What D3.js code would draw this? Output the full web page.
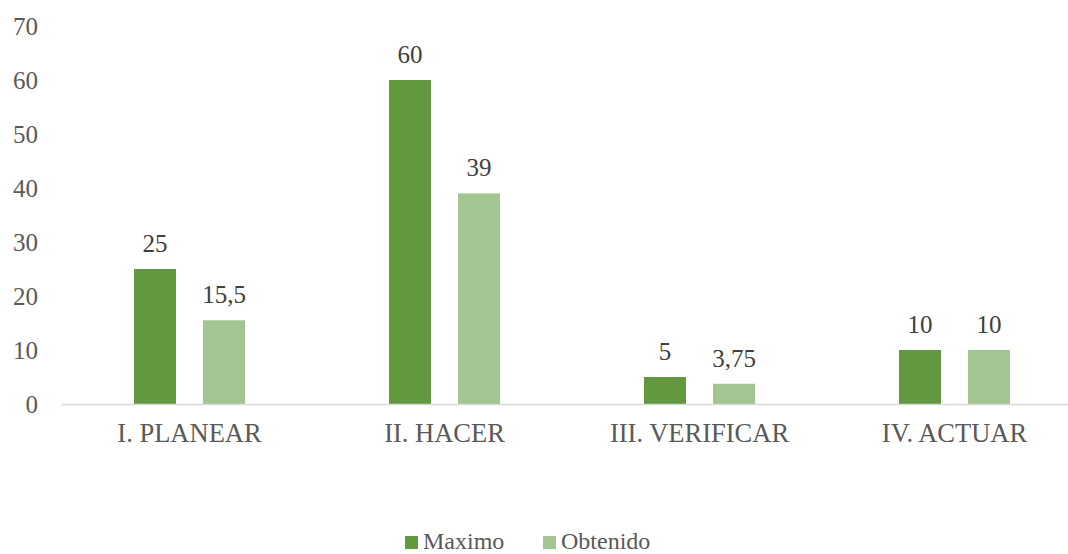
<!DOCTYPE html>
<html>
<head>
<meta charset="utf-8">
<script src="https://cdn.jsdelivr.net/npm/d3@7"></script>
<style>
  body { margin: 0; background: #fff; }
</style>
</head>
<body>
<div id="chart"></div>
<script>
// data
var categories = ["I. PLANEAR", "II. HACER", "III. VERIFICAR", "IV. ACTUAR"];
var seriesNames = ["Maximo", "Obtenido"];
var maximo = [25, 60, 5, 10];
var obtenido = [15.5, 39, 3.75, 10];
var yTicks = [0, 10, 20, 30, 40, 50, 60, 70];

var colors = ["#62993e", "#a2c591"];
var FONT = "'Liberation Serif'";

var W = 1068, H = 554;
var margin = {top: 26, left: 62};

var svg = d3.select("#chart").append("svg")
  .attr("width", W)
  .attr("height", H);

// x scale runs past the right edge, like the original
var x0 = d3.scaleBand()
  .domain(categories)
  .range([margin.left, margin.left + 255 * categories.length]);

var x1 = d3.scaleBand()
  .domain(seriesNames)
  .range([0, 111])
  .paddingInner(27 / 69);

var y = d3.scaleLinear()
  .domain([0, 70])
  .range([404, margin.top]);

// y tick labels
svg.append("g")
  .selectAll("text")
  .data(yTicks)
  .enter()
  .append("text")
  .attr("x", 38)
  .attr("y", function(d) { return y(d); })
  .attr("dy", "0.35em")
  .attr("fill", "#595959")
  .style("font-family", FONT)
  .style("text-anchor", "end")
  .style("font-size", "25px")
  .text(function(d) { return d; });

// bars
var rows = categories.map(function(c, i) {
  return {cat: c, vals: [maximo[i], obtenido[i]]};
});

var groups = svg.selectAll(".grp")
  .data(rows)
  .enter()
  .append("g")
  .attr("class", "grp")
  .attr("transform", function(d) {
    return "translate(" + (x0(d.cat) + x0.bandwidth() / 2 - 55.5) + ",0)";
  });

var fmt = function(v) { return String(v).replace(".", ","); };

groups.selectAll("rect")
  .data(function(d) { return d.vals.map(function(v, j) { return {s: seriesNames[j], v: v, j: j}; }); })
  .enter()
  .append("rect")
  .attr("x", function(d) { return x1(d.s); })
  .attr("y", function(d) { return y(d.v); })
  .attr("width", x1.bandwidth())
  .attr("height", function(d) { return y(0) - y(d.v); })
  .attr("fill", function(d) { return colors[d.j]; });

groups.selectAll(".lbl")
  .data(function(d) { return d.vals.map(function(v, j) { return {s: seriesNames[j], v: v}; }); })
  .enter()
  .append("text")
  .attr("class", "lbl")
  .attr("x", function(d) { return x1(d.s) + x1.bandwidth() / 2; })
  .attr("y", function(d) { return y(d.v) - 17; })
  .attr("fill", "#404040")
  .style("font-family", FONT)
  .style("text-anchor", "middle")
  .style("font-size", "25px")
  .text(function(d) { return fmt(d.v); });

// x axis line
svg.append("line")
  .attr("x1", margin.left)
  .attr("x2", W)
  .attr("y1", y(0) + 0.5)
  .attr("y2", y(0) + 0.5)
  .attr("stroke", "#d9d9d9")
  .attr("stroke-width", 1.5);

// category labels
svg.append("g")
  .selectAll("text")
  .data(categories)
  .enter()
  .append("text")
  .attr("x", function(d) { return x0(d) + x0.bandwidth() / 2; })
  .attr("y", 442)
  .attr("fill", "#595959")
  .style("font-family", FONT)
  .style("text-anchor", "middle")
  .style("font-size", "26.5px")
  .text(function(d) { return d; });

// legend
var legX = [405, 543];
var legend = svg.selectAll(".legend")
  .data(seriesNames)
  .enter()
  .append("g")
  .attr("class", "legend")
  .attr("transform", function(d, i) { return "translate(" + legX[i] + ",536)"; });

legend.append("rect")
  .attr("width", 13)
  .attr("height", 13)
  .attr("fill", function(d, i) { return colors[i]; });

legend.append("text")
  .attr("x", 18)
  .attr("y", 13)
  .attr("fill", "#595959")
  .style("font-family", FONT)
  .style("font-size", "24px")
  .text(function(d) { return d; });
</script>
</body>
</html>
